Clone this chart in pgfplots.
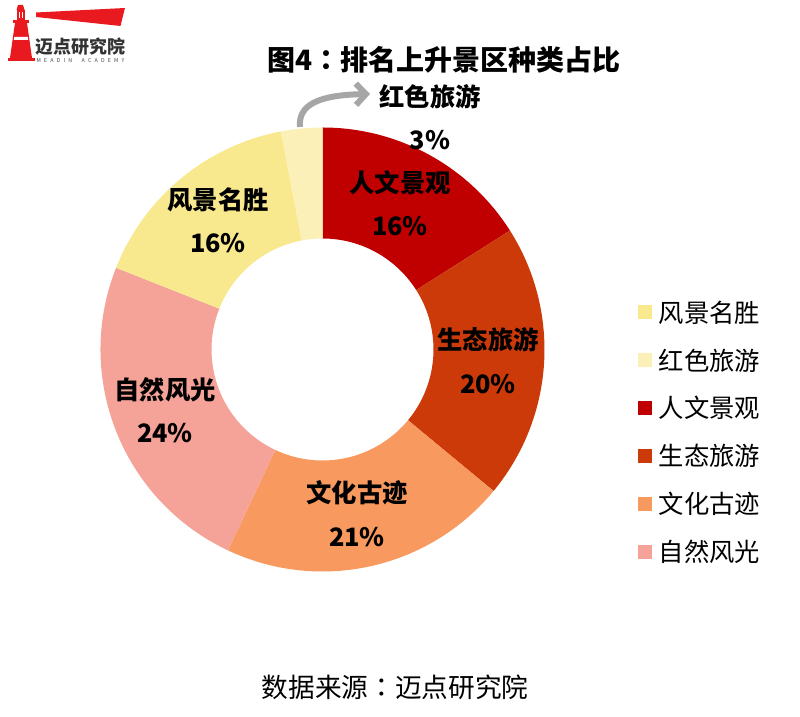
\documentclass[border=0pt]{standalone}
\usepackage{pgfplots}
\pgfplotsset{compat=1.18}
\usepackage{pgfplotstable}
\usetikzlibrary{arrows.meta}
\usepackage{fontspec}
\setmainfont{Noto Sans CJK SC}
\newfontfamily\tcfont{Noto Sans CJK TC}
\definecolor{c0}{HTML}{C00000}% 人文景观
\definecolor{c1}{HTML}{CC3A0A}% 生态旅游
\definecolor{c2}{HTML}{F89A60}% 文化古迹
\definecolor{c3}{HTML}{F5A298}% 自然风光
\definecolor{c4}{HTML}{F9E98E}% 风景名胜
\definecolor{c5}{HTML}{FBF1B8}% 红色旅游
\definecolor{logored}{HTML}{E8191F}
\definecolor{arrowgray}{HTML}{A6A6A6}
% slices clockwise from 12 o'clock
\pgfplotstableread{
id value
0 16
1 20
2 21
3 24
4 16
5 3
}\piedata
\def\SA#1{\csname sa#1\endcsname}
\def\EA#1{\csname ea#1\endcsname}
\begin{document}
\xdef\cum{90}%
\pgfplotsforeachungrouped \i in {0,...,5}{%
  \pgfplotstablegetelem{\i}{value}\of\piedata
  \pgfmathsetmacro\endang{\cum-3.6*\pgfplotsretval}%
  \expandafter\xdef\csname sa\i\endcsname{\cum}%
  \expandafter\xdef\csname ea\i\endcsname{\endang}%
  \xdef\cum{\endang}%
}%
\begin{tikzpicture}
\begin{axis}[
  width=600pt, height=537.75pt, scale only axis,
  xmin=0, xmax=800, ymin=0, ymax=717,
  hide axis, clip=false,
  legend image code/.code={\fill[#1, draw=none] (0pt,-5.25pt) rectangle (10.5pt,5.25pt);},
  legend style={draw=none, fill=none, at={(axis cs:638,416.5)}, anchor=north west,
    inner sep=0pt, row sep=18.4pt, column sep=5pt,
    font=\fontsize{19}{22}\selectfont,
    nodes={inner sep=0pt}},
  legend cell align=left,
]
\fill[white] (axis cs:0,0) rectangle (axis cs:800,717);
% donut
\pgfplotsinvokeforeach{0,...,5}{%
  \fill[c#1] (axis cs:{322.5+222*cos(\SA{#1})},{367.5+222*sin(\SA{#1})})
    arc[start angle=\SA{#1}, end angle=\EA{#1}, radius=166.5pt]
    -- (axis cs:{322.5+111*cos(\EA{#1})},{367.5+111*sin(\EA{#1})})
    arc[start angle=\EA{#1}, end angle=\SA{#1}, radius=83.25pt] -- cycle;
}
% legend
\addlegendimage{fill=c4}\addlegendentry{风景名胜}
\addlegendimage{fill=c5}\addlegendentry{红色旅游}
\addlegendimage{fill=c0}\addlegendentry{人文景观}
\addlegendimage{fill=c1}\addlegendentry{生态旅游}
\addlegendimage{fill=c2}\addlegendentry{文化古迹}
\addlegendimage{fill=c3}\addlegendentry{自然风光}
% labels
\begin{scope}[every node/.style={font=\fontsize{19}{22}\selectfont\bfseries, inner sep=0pt, anchor=center}]
\node at (axis cs:218,517) {风景名胜};
\node at (axis cs:218,474) {16\%};
\node at (axis cs:400,534) {人文景观};
\node at (axis cs:400,491) {16\%};
\node at (axis cs:488,377) {生态旅游};
\node at (axis cs:488,333) {20\%};
\node at (axis cs:357,224) {文化古迹};
\node at (axis cs:357,180) {21\%};
\node at (axis cs:165,327) {自然风光};
\node at (axis cs:165,284) {24\%};
\node at (axis cs:430,620) {红色旅游};
\node at (axis cs:430,577) {3\%};
\end{scope}
% arrow
\draw[arrowgray, line width=4.5pt, -{Straight Barb[length=7.5pt, width=16pt]}]
  (axis cs:300,590) .. controls (298,612) and (318,622) .. (axis cs:370,623);
% title
\node[font=\fontsize{21}{24}\selectfont\bfseries, anchor=center, inner sep=0pt] at (axis cs:444,657) {图4{\tcfont ：}排名上升景区种类占比};
% footer
\node[font=\fontsize{20}{24}\selectfont, anchor=center, inner sep=0pt] at (axis cs:395,30) {数据来源{\tcfont ：}迈点研究院};
% logo
\fill[logored] (axis cs:36,704.5) -- (axis cs:125,709) -- (axis cs:120.5,691) -- (axis cs:36,700) -- cycle;
\fill[logored] (axis cs:18,712) -- (axis cs:23,712) -- (axis cs:24.5,707) -- (axis cs:16.5,707) -- cycle;
\fill[logored] (axis cs:16.5,707) rectangle (axis cs:25,697);
\fill[white] (axis cs:18.5,705) rectangle (axis cs:20,699);
\fill[white] (axis cs:21.5,705) rectangle (axis cs:23,699);
\fill[logored] (axis cs:13,697) rectangle (axis cs:29,694);
\fill[logored] (axis cs:15,694) -- (axis cs:27,694) -- (axis cs:32,659) -- (axis cs:10,659) -- cycle;
\fill[white] (axis cs:14.2,680) -- (axis cs:27.8,680) -- (axis cs:28.2,677) -- (axis cs:13.8,677) -- cycle;
\fill[logored] (axis cs:8,659) rectangle (axis cs:35,656);
\node[font=\fontsize{13.5}{15}\selectfont\bfseries, text=black!80, anchor=center, inner sep=0pt] at (axis cs:80.5,670) {迈点研究院};
\node[font=\fontsize{4}{5}\selectfont, text=black!70, anchor=center, inner sep=0pt] at (axis cs:80.5,656.5) {\makebox[66pt][s]{M E A D I N \ \ A C A D E M Y}};
\end{axis}
\end{tikzpicture}
\end{document}
